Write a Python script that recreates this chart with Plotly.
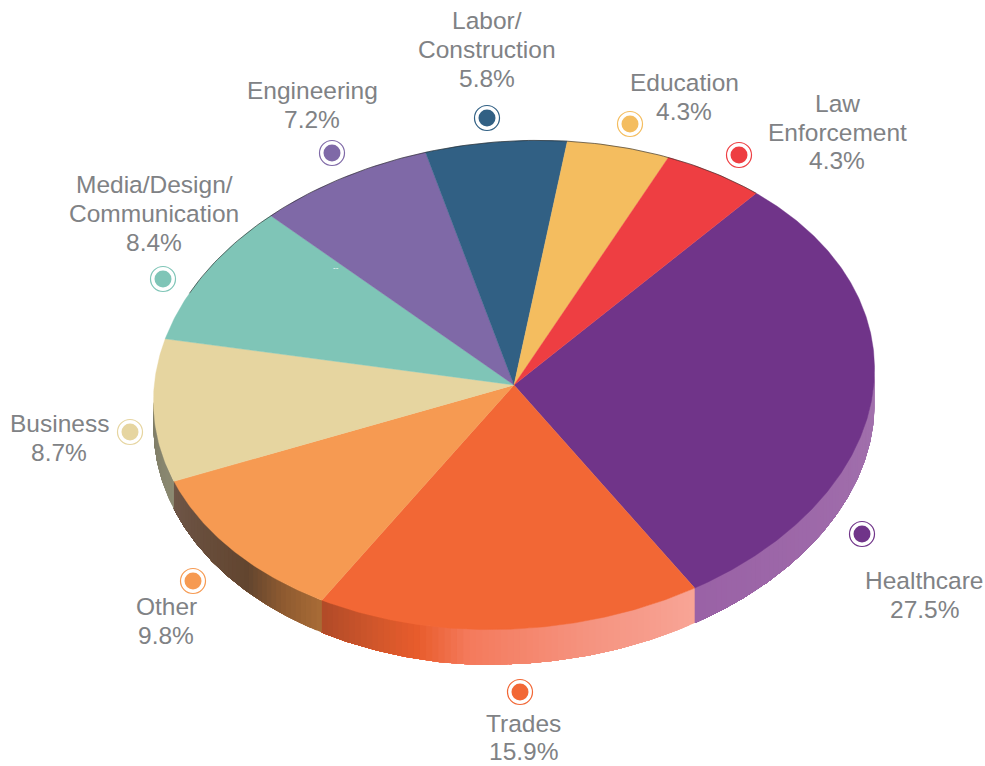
import math
import plotly.graph_objects as go

# ---- data ----
categories = ["Healthcare", "Trades", "Other", "Business", "Media/Design/<br>Communication",
              "Engineering", "Labor/<br>Construction", "Education", "Law<br>Enforcement"]
values = [27.5, 15.9, 9.8, 8.7, 8.4, 7.2, 5.8, 4.3, 4.3]
colors = ["#703489", "#F26735", "#F69A52", "#E6D5A0", "#7FC5B7",
          "#7F69A7", "#316084", "#F4BD5F", "#EE3E42"]
# ---- layout helpers ----
cx, cy = 514, 385
start_angle = 41.4
marker_pos = [(862, 534), (520, 692), (193, 581), (130, 432), (163, 279),
              (332, 153), (487, 118), (630, 124), (739, 155)]
label_pos = [(924, 595), (523, 737.5), (166, 621), (59, 438), (154, 213.5),
             (312, 105), (487, 49.5), (684, 97), (837, 132)]
line_gap = 28.8
side_stops = {
    0: [(0, "#9A62A6"), (1, "#A272AD")],
    1: [(0, "#B04A28"), (0.15, "#D0562B"), (0.27, "#E85C2C"), (0.4, "#F47A5C"), (0.7, "#F5937F"), (1, "#F8A496")],
    2: [(0, "#6E5648"), (0.6, "#62452F"), (0.8, "#8E5A30"), (1, "#A96C36")],
    3: [(0, "#7D7B66"), (1, "#8C8A72")],
}

def depth(a):
    return 35 - max(0, a - 190) * 0.12

def pt(a, bottom=False):
    r = math.radians(a)
    s, c = math.sin(r), math.cos(r)
    return (cx + 360.5 * s + 5 * c,
            cy - 244.3 * c - 12.8 * s + (depth(a) if bottom else 0))

def hex2rgb(h):
    return tuple(int(h[i:i + 2], 16) for i in (1, 3, 5))

def grad(stops, f):
    for (f0, c0), (f1, c1) in zip(stops, stops[1:]):
        if f <= f1:
            u = (f - f0) / (f1 - f0) if f1 > f0 else 0
            a, b = hex2rgb(c0), hex2rgb(c1)
            return "rgb(%d,%d,%d)" % tuple(round(a[i] + (b[i] - a[i]) * u) for i in range(3))
    return stops[-1][1]

total = sum(values)
angles = [start_angle]
for v in values:
    angles.append(angles[-1] + v / total * 360)

fig = go.Figure()

# side wall (drawn under the top face); each band runs to the slice's end so no seams show
for i, stops in side_stops.items():
    a0, a1 = angles[i], min(angles[i + 1], 269)
    a0 = max(a0, 88)
    n = max(2, int((a1 - a0) / 1.0))
    for k in range(n):
        s0 = a0 + (a1 - a0) * k / n
        m = max(2, int((a1 - s0) / 0.5))
        steps = [s0 + (a1 - s0) * j / m for j in range(m + 1)]
        top = [pt(a) for a in steps]
        bot = [pt(a, True) for a in reversed(steps)]
        poly = top + bot + [top[0]]
        c = grad(stops, 1 - (k + 0.5) / n)   # stops run left to right on the page
        fig.add_trace(go.Scatter(x=[p[0] for p in poly], y=[p[1] for p in poly], mode="lines",
                                 fill="toself", fillcolor=c, line=dict(width=0), hoverinfo="skip"))

# top face
for i, name in enumerate(categories):
    a0, a1 = angles[i], angles[i + 1]
    n = max(2, int((a1 - a0) / 0.5))
    arc = [pt(a0 + (a1 - a0) * j / n) for j in range(n + 1)]
    poly = [(cx, cy)] + arc + [(cx, cy)]
    fig.add_trace(go.Scatter(x=[p[0] for p in poly], y=[p[1] for p in poly], mode="lines",
                             fill="toself", fillcolor=colors[i], line=dict(width=0.4, color=colors[i]),
                             name=name.replace("<br>", " "), hoverinfo="name"))

# hairline along the back of the rim
back = [pt(295 + (angles[-1] - 295) * j / 120) for j in range(121)]
fig.add_trace(go.Scatter(x=[p[0] for p in back], y=[p[1] for p in back], mode="lines",
                         line=dict(width=0.6, color="#222222"), hoverinfo="skip"))

# callout dots and labels
for i, (mx, my) in enumerate(marker_pos):
    fig.add_trace(go.Scatter(x=[mx], y=[my], mode="markers", hoverinfo="skip",
                             marker=dict(size=25, color="#FFFFFF", line=dict(width=1.2, color=colors[i]))))
    fig.add_trace(go.Scatter(x=[mx], y=[my], mode="markers", hoverinfo="skip",
                             marker=dict(size=17, color=colors[i], line=dict(width=0))))
    lx, ly = label_pos[i]
    lines = categories[i].split("<br>") + [f"{values[i]}%"]
    for j, line in enumerate(lines):
        fig.add_annotation(x=lx, y=ly + (j - (len(lines) - 1) / 2) * line_gap, text=line, showarrow=False,
                           xanchor="center", yanchor="middle", align="center", borderpad=0,
                           font=dict(family="Liberation Sans", size=24.5, color="#808285"))

fig.add_annotation(x=336, y=267, text="--", showarrow=False,
                   font=dict(family="Liberation Sans", size=8, color="#FFFFFF"))

fig.update_layout(width=985, height=766, margin=dict(l=0, r=0, t=0, b=0), showlegend=False,
                  paper_bgcolor="white", plot_bgcolor="white",
                  xaxis=dict(range=[0, 985], visible=False, fixedrange=True),
                  yaxis=dict(range=[766, 0], visible=False, fixedrange=True))
fig.write_html("out.html", config={"displayModeBar": False},
               post_script="document.body.style.margin='0';document.body.style.overflow='hidden';")
